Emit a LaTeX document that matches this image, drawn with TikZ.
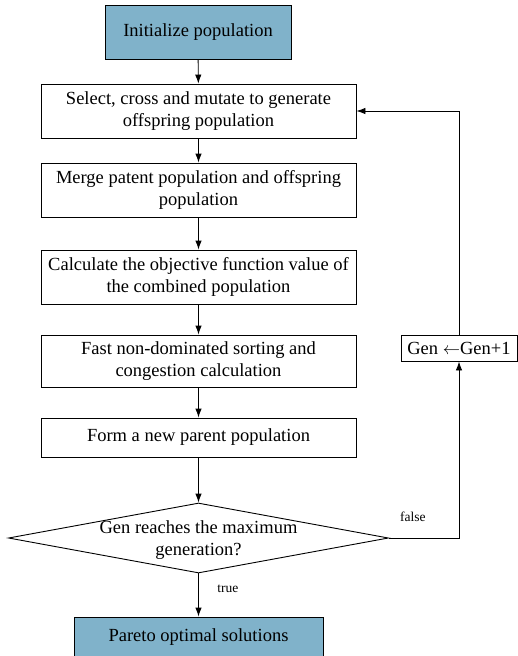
\documentclass[tikz,border=0pt]{standalone}
\usepackage{fontspec}
\setmainfont{Liberation Serif}
\usetikzlibrary{arrows,arrows.meta,shapes.geometric}
\definecolor{boxblue}{RGB}{128,178,202}

\begin{document}
\begin{tikzpicture}[x=1pt, y=-1pt]
\tikzset{proc/.style = {shape=rectangle, draw, line width=0.9pt, minimum width=315pt, minimum height=54pt, inner sep=0pt, align=center, font=\fontsize{18.5}{22}\selectfont}}
\tikzset{term/.style = {proc, fill=boxblue, minimum width=186pt}}
\tikzset{decision/.style = {shape=diamond, draw, line width=0.9pt, minimum width=380pt, minimum height=70pt, inner sep=0pt}}
\tikzset{flow/.style = {draw, line width=0.9pt, -{Latex[length=9pt, width=6.5pt]}}}
\tikzset{small/.style = {font=\fontsize{13.5}{16}\selectfont}}
\useasboundingbox (0,0) rectangle (518,656);

% Define the steps of the loop
\node[term] (init) at (198,32) {Initialize population};
\node[proc] (select) at (198.5,111) {Select, cross and mutate to generate\\offspring population};
\node[proc] (merge) at (198.5,190) {Merge patent population and offspring\\population};
\node[proc] (calc) at (198.5,277) {Calculate the objective function value of\\the combined population};
\node[proc, minimum height=52pt] (fast) at (198.5,361) {Fast non-dominated sorting and\\congestion calculation};
\node[proc, minimum height=39pt] (form) at (198.5,437.5) {Form a new parent population};
\node[decision] (check) at (198.5,538) {};
\node[align=center, font=\fontsize{18.5}{22}\selectfont] (checktext) at (198.5,540) {Gen reaches the maximum\\generation?};
\node[term, minimum width=249pt, minimum height=40pt] (pareto) at (198.5,637) {Pareto optimal solutions};
\node[proc, minimum width=116pt, minimum height=26pt] (gen) at (459,348) {Gen $\leftarrow$Gen+1};

% Draw the flow
\draw[flow] (init) -- (select);
\draw[flow] (select) -- (merge);
\draw[flow] (merge) -- (calc);
\draw[flow] (calc) -- (fast);
\draw[flow] (fast) -- (form);
\draw[flow] (form) -- (check);
\draw[flow] (check) -- node[small, pos=0.35, right=15pt] {true} (pareto);
\draw[flow] (check.east) -| node[small, pos=0.17, above=13pt] {false} (gen.south);
\draw[flow] (gen.north) |- (select.east);
\end{tikzpicture}
\end{document}
